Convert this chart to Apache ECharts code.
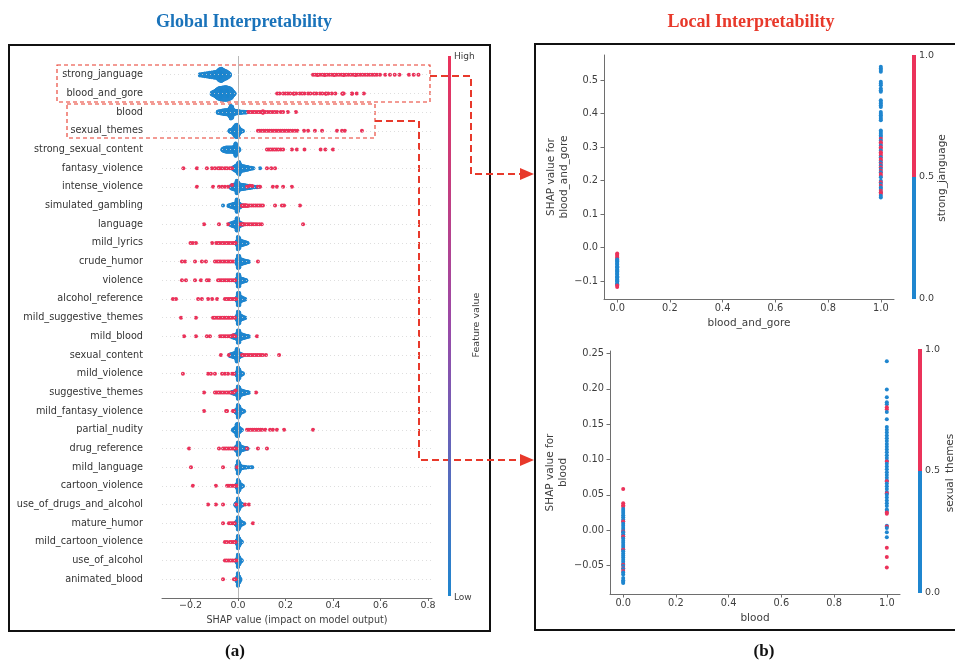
<!DOCTYPE html>
<html>
<head>
<meta charset="utf-8">
<script src="https://cdn.jsdelivr.net/npm/echarts@6/dist/echarts.min.js"></script>
<style>
  html, body { margin: 0; padding: 0; background: #fff; }
  #chart { width: 955px; height: 662px; }
</style>
</head>
<body>
<div id="chart"></div>
<script>
// ---- data ----
const features = ['strong_janguage', 'blood_and_gore', 'blood', 'sexual_themes', 'strong_sexual_content',
  'fantasy_violence', 'intense_violence', 'simulated_gambling', 'language', 'mild_lyrics', 'crude_humor',
  'violence', 'alcohol_reference', 'mild_suggestive_themes', 'mild_blood', 'sexual_content', 'mild_violence',
  'suggestive_themes', 'mild_fantasy_violence', 'partial_nudity', 'drug_reference', 'mild_language',
  'cartoon_violence', 'use_of_drugs_and_alcohol', 'mature_humor', 'mild_cartoon_violence', 'use_of_alcohol',
  'animated_blood'];

// SHAP values where the feature is low (blue); [x, n] = n points stacked at x
const lowShap = [
  [[-0.16,4],[-0.15,6],[-0.14,8],[-0.13,10],[-0.12,12],[-0.11,14],[-0.10,16],[-0.09,18],[-0.085,22],[-0.08,28],[-0.075,32],[-0.07,34],[-0.065,30],[-0.06,26],[-0.055,22],[-0.05,20],[-0.045,16],[-0.04,12],[-0.035,6]],
  [[-0.11,6],[-0.105,10],[-0.1,14],[-0.095,18],[-0.09,24],[-0.085,30],[-0.08,34],[-0.075,36],[-0.07,36],[-0.065,38],[-0.06,38],[-0.055,40],[-0.05,40],[-0.045,38],[-0.04,36],[-0.035,34],[-0.03,30],[-0.025,22],[-0.02,12],[-0.015,4]],
  [[-0.085,4],[-0.08,5],[-0.075,6],[-0.07,8],[-0.065,9],[-0.06,10],[-0.055,11],[-0.05,12],[-0.045,12],[-0.04,14],[-0.035,22],[-0.03,34],[-0.025,30],[-0.02,14],[-0.015,10],[-0.01,8],[-0.005,7],[0,6],[0.005,5],[0.01,4],[0.015,4],[0.02,3],[0.025,3],[0.03,2],[0.035,2],[0.04,1]],
  [[-0.035,4],[-0.03,6],[-0.025,8],[-0.02,14],[-0.015,22],[-0.01,30],[-0.005,32],[0,26],[0.005,16],[0.01,8],[0.015,4],[0.02,2]],
  [[-0.065,4],[-0.06,8],[-0.055,10],[-0.05,12],[-0.045,12],[-0.04,12],[-0.035,12],[-0.03,12],[-0.025,12],[-0.02,14],[-0.015,16],[-0.01,34],[-0.005,22],[0,10],[0.005,4]],
  [[-0.02,6],[-0.015,10],[-0.01,14],[-0.005,18],[0,28],[0.005,34],[0.01,20],[0.015,14],[0.02,12],[0.025,12],[0.03,10],[0.035,8],[0.04,8],[0.045,6],[0.05,4],[0.055,3],[0.06,2],[0.065,1],[0.093,1]],
  [[-0.03,6],[-0.025,10],[-0.02,12],[-0.015,14],[-0.01,16],[-0.005,34],[0,26],[0.005,16],[0.01,14],[0.015,12],[0.02,12],[0.025,10],[0.03,10],[0.035,8],[0.04,8],[0.045,6],[0.05,6],[0.055,4],[0.06,4],[0.07,2],[0.08,2],[0.09,1]],
  [[-0.063,1],[-0.04,2],[-0.035,4],[-0.03,6],[-0.025,8],[-0.02,10],[-0.015,12],[-0.01,14],[-0.005,34],[0,30],[0.005,12],[0.01,8],[0.015,4],[0.02,2]],
  [[-0.035,3],[-0.03,5],[-0.025,8],[-0.02,10],[-0.015,12],[-0.01,14],[-0.005,32],[0,30],[0.005,12],[0.01,8],[0.015,5],[0.02,2]],
  [[-0.005,10],[0,34],[0.005,28],[0.01,14],[0.015,12],[0.02,10],[0.025,8],[0.03,6],[0.035,4],[0.04,2]],
  [[-0.005,12],[0,32],[0.005,30],[0.01,14],[0.015,12],[0.02,10],[0.025,8],[0.03,6],[0.035,4],[0.04,3],[0.045,2]],
  [[-0.005,10],[0,32],[0.005,30],[0.01,12],[0.015,10],[0.02,8],[0.025,6],[0.03,4],[0.035,2]],
  [[-0.005,8],[0,30],[0.005,30],[0.01,12],[0.015,9],[0.02,6],[0.025,4],[0.03,2]],
  [[-0.005,10],[0,32],[0.005,28],[0.01,12],[0.015,9],[0.02,6],[0.025,4],[0.03,2]],
  [[-0.025,4],[-0.02,6],[-0.015,8],[-0.01,10],[-0.005,14],[0,32],[0.005,30],[0.01,14],[0.015,12],[0.02,10],[0.025,8],[0.03,6],[0.035,4],[0.04,3],[0.045,2]],
  [[-0.035,4],[-0.03,6],[-0.025,8],[-0.02,10],[-0.015,12],[-0.01,16],[-0.005,34],[0,30],[0.005,12],[0.01,8],[0.015,5],[0.02,2]],
  [[-0.005,10],[0,34],[0.005,24],[0.01,10],[0.015,6],[0.02,3]],
  [[-0.025,4],[-0.02,6],[-0.015,8],[-0.01,10],[-0.005,14],[0,34],[0.005,28],[0.01,14],[0.015,12],[0.02,10],[0.025,8],[0.03,6],[0.035,4],[0.04,3],[0.045,2]],
  [[-0.01,6],[-0.005,12],[0,34],[0.005,26],[0.01,12],[0.015,8],[0.02,4],[0.025,2]],
  [[-0.02,4],[-0.015,8],[-0.01,12],[-0.005,30],[0,32],[0.005,12],[0.01,6],[0.015,3]],
  [[-0.01,8],[-0.005,14],[0,34],[0.005,28],[0.01,14],[0.015,10],[0.02,8],[0.025,6],[0.03,4],[0.035,3],[0.04,2]],
  [[-0.005,10],[0,34],[0.005,24],[0.01,10],[0.015,6],[0.02,4],[0.025,3],[0.03,2],[0.035,2],[0.045,1],[0.055,1],[0.06,1]],
  [[-0.005,10],[0,34],[0.005,24],[0.01,10],[0.015,6],[0.02,2]],
  [[-0.01,6],[-0.005,12],[0,34],[0.005,24],[0.01,10],[0.015,6],[0.02,2]],
  [[-0.01,6],[-0.005,12],[0,34],[0.005,26],[0.01,12],[0.015,8],[0.02,4],[0.025,2]],
  [[-0.005,10],[0,34],[0.005,20],[0.01,8],[0.015,3]],
  [[-0.005,10],[0,34],[0.005,20],[0.01,8],[0.015,3]],
  [[-0.005,10],[0,34],[0.005,16],[0.01,4]]
];

// SHAP values where the feature is high (red)
const highShap = [
  [0.316,0.325,[0.335,2],0.345,0.355,[0.365,2],0.375,0.385,0.395,[0.405,2],0.415,0.425,0.435,[0.445,2],0.455,0.465,0.475,0.485,[0.495,2],0.505,0.515,0.525,0.535,0.545,0.555,0.565,0.575,0.585,0.598,0.62,0.64,0.66,0.68,0.72,0.74,0.76],
  [0.165,0.175,0.19,0.2,0.21,0.22,[0.235,2],0.245,0.26,0.27,0.28,0.295,0.305,0.32,0.33,0.345,0.355,[0.37,2],0.38,0.395,0.41,[0.44,2],0.445,[0.48,2],0.5,0.53],
  [0.043,0.05,0.058,0.065,0.072,0.08,0.088,0.095,[0.105,5],0.115,0.125,0.135,0.145,0.155,0.165,0.18,0.19,0.21,0.244],
  [0.084,0.092,0.1,0.108,0.116,0.124,0.132,0.14,0.148,0.156,0.164,0.172,0.18,0.188,0.196,0.204,0.212,0.22,0.23,0.24,0.25,0.278,0.295,0.324,0.354,0.417,0.438,0.45,0.522],
  [0.122,0.13,0.138,0.146,0.154,0.162,0.17,0.18,0.19,0.227,0.248,0.28,0.348,0.368,0.40],
  [-0.23,-0.173,-0.131,-0.11,-0.097,-0.084,-0.076,-0.067,-0.055,-0.046,-0.034,-0.025,0.122,0.14,0.156],
  [-0.173,-0.105,-0.08,-0.067,-0.055,-0.042,-0.025,0.038,0.05,0.06,0.084,0.093,0.147,0.164,0.19,0.227],
  [[0.017,2],[0.025,3],[0.033,3],[0.041,2],0.049,0.057,0.065,0.073,0.081,0.089,0.097,0.105,0.156,0.185,0.194,0.261],
  [-0.143,-0.08,-0.042,0.008,[0.016,2],[0.024,2],0.032,0.04,0.048,0.056,0.064,0.072,0.08,0.09,0.1,0.274],
  [-0.2,-0.19,-0.177,-0.109,-0.092,-0.084,-0.076,-0.067,-0.059,-0.05,-0.042,-0.034,-0.025,-0.017,-0.01],
  [-0.236,-0.223,-0.181,-0.152,-0.135,-0.097,-0.088,-0.08,-0.072,-0.063,-0.055,-0.046,-0.038,-0.03,-0.021,0.084],
  [-0.236,-0.219,-0.181,-0.156,-0.131,-0.122,-0.084,-0.076,-0.068,-0.06,-0.052,-0.044,-0.036,-0.028,-0.02,-0.012],
  [-0.274,-0.261,-0.168,-0.152,-0.126,-0.109,-0.088,-0.055,-0.047,-0.039,-0.031,-0.023,-0.015,-0.008],
  [-0.24,-0.177,-0.105,-0.097,-0.088,-0.08,-0.072,-0.064,-0.056,-0.048,-0.04,-0.032,-0.024,-0.013],
  [-0.227,-0.177,-0.131,-0.118,-0.076,-0.068,-0.06,-0.052,-0.044,-0.036,-0.028,-0.02,-0.012,0.08],
  [-0.072,-0.038,0.017,0.025,0.033,0.041,0.049,0.057,0.065,0.073,0.081,0.089,0.097,0.105,0.118,0.173],
  [-0.232,-0.126,-0.114,-0.097,-0.067,-0.055,-0.042,-0.025,-0.017],
  [-0.143,-0.097,-0.09,-0.082,-0.075,-0.067,-0.059,-0.05,-0.042,-0.034,-0.026,-0.018,-0.01,0.076],
  [-0.143,-0.05,-0.046,-0.021,-0.017],
  [0.038,0.046,0.054,0.062,0.07,0.078,0.086,0.094,0.102,0.115,0.135,0.147,0.164,0.194,0.316],
  [-0.206,-0.08,-0.063,-0.055,-0.047,-0.039,-0.031,-0.023,-0.015,-0.008,0.038,0.084,0.122],
  [-0.198,-0.063,-0.004],
  [-0.19,-0.093,-0.046,-0.038,-0.03,-0.022,-0.014,-0.006],
  [-0.126,-0.093,-0.063,-0.008,0.03,0.046],
  [-0.063,-0.038,-0.03,-0.022,-0.014,0.063],
  [-0.055,-0.046,-0.034,-0.026,-0.018,-0.01],
  [-0.055,-0.047,-0.039,-0.031,-0.023,-0.015,-0.007],
  [-0.063,-0.017,-0.01]
];

const shapTicks = [-0.2, 0, 0.2, 0.4, 0.6, 0.8];
const depTicks = [0, 0.2, 0.4, 0.6, 0.8, 1.0];
const goreTicks = [-0.1, 0, 0.1, 0.2, 0.3, 0.4, 0.5];
const bloodTicks = [-0.05, 0, 0.05, 0.1, 0.15, 0.2, 0.25];

// dependence plot: blood_and_gore (colour = strong_janguage)
const goreLowAt0 = [-0.035,-0.038,-0.04,-0.045,-0.048,-0.05,-0.055,-0.058,-0.06,-0.065,-0.068,-0.07,-0.075,-0.078,-0.08,-0.085,-0.088,-0.09,-0.095,-0.098,-0.1,-0.105,-0.108,-0.11];
const goreHighAt0 = [-0.017,-0.021,-0.025,-0.029,-0.033,-0.113,-0.117];
const goreLowAt1 = [0.54,0.535,0.53,0.525,0.495,0.49,0.485,0.475,0.47,0.465,0.44,0.435,0.43,0.425,0.42,0.405,0.4,0.395,0.39,0.385,0.38,0.35,0.345,0.34,0.335,0.33,0.32,0.305,0.29,0.27,0.255,0.245,0.235,0.225,0.21,0.2,0.19,0.18,0.175,0.165,0.155,0.15];
const goreHighAt1 = [0.325,0.315,0.31,0.3,0.295,0.285,0.28,0.275,0.265,0.26,0.25,0.24,0.23,0.22,0.215,0.195,0.185,0.17,0.165,0.16];

// dependence plot: blood (colour = sexual_themes)
const bloodLowAt0 = [0.03,0.027,0.024,0.021,0.018,0.015,0.012,0.009,0.006,0.003,0,-0.003,-0.006,-0.009,-0.012,-0.015,-0.018,-0.021,-0.024,-0.027,-0.03,-0.033,-0.036,-0.039,-0.042,-0.045,-0.048,-0.051,-0.055,-0.06,-0.063,-0.068,-0.071,-0.073,-0.075];
const bloodHighAt0 = [0.058,0.038,0.035,0.033,0.012,-0.002,-0.009,-0.028,-0.049,-0.054,-0.058];
const bloodLowAt1 = [0.239,0.199,0.188,0.181,0.178,0.167,0.157,0.146,0.142,0.138,0.134,0.13,0.126,0.122,0.118,0.114,0.11,0.106,0.102,0.098,0.094,0.09,0.086,0.082,0.078,0.074,0.07,0.066,0.062,0.058,0.054,0.05,0.046,0.042,0.038,0.034,0.029,0.027,0.006,0.003,-0.003,-0.01];
const bloodHighAt1 = [0.174,0.171,0.097,0.069,0.052,0.025,0.023,0.005,-0.025,-0.038,-0.053];

// ---- colours ----
const BLUE = '#1f86cf';
const RED = '#eb325a';
const FONT = 'DejaVu Sans';

// beeswarm layout, same idea as shap's summary plot: stack points that share an x value
const swarmLow = [], swarmHigh = [];
features.forEach((f, row) => {
  const pts = [];
  const add = (list, c) => list.forEach(v => {
    const [x, n] = typeof v === 'number' ? [v, 1] : v;
    for (let k = 0; k < n; k++) pts.push({ x, c });
  });
  add(lowShap[row], 0);
  add(highShap[row], 1);
  pts.sort((a, b) => a.x - b.x || a.c - b.c);
  let layer = 0, last = null, maxY = 0;
  pts.forEach(p => {
    const key = Math.round(p.x * 10000);
    if (key !== last) { layer = 0; last = key; }
    p.y = Math.ceil(layer / 2) * ((layer % 2) * 2 - 1);
    layer++;
    maxY = Math.max(maxY, Math.abs(p.y));
  });
  const s = 0.9 * 0.4 / (maxY + 1);
  pts.forEach(p => (p.c ? swarmHigh : swarmLow).push([p.x, row + p.y * s]));
});

// dependence points: [feature value, shap, colour value], drawn in order of shap so colours interleave
function depPoints(lo0, hi0, lo1, hi1) {
  const out = [];
  lo0.forEach(v => out.push([0, v, 0]));
  hi0.forEach(v => out.push([0, v, 1]));
  lo1.forEach(v => out.push([1, v, 0]));
  hi1.forEach(v => out.push([1, v, 1]));
  return out.sort((a, b) => b[1] - a[1]);
}
const gorePts = depPoints(goreLowAt0, goreHighAt0, goreLowAt1, goreHighAt1);
const bloodPts = depPoints(bloodLowAt0, bloodHighAt0, bloodLowAt1, bloodHighAt1);

const fmt = d => v => (v < 0 ? '\u2212' : '') + Math.abs(v).toFixed(d);

const axisGrey = '#6e6e6e';
const labelGrey = '#3d3d3d';

function depX(grid, name, gap) {
  return {
    gridIndex: grid, type: 'value', min: -0.05, max: 1.05,
    name: name, nameLocation: 'middle', nameGap: gap,
    nameTextStyle: { fontFamily: FONT, fontSize: 10.5, color: labelGrey },
    axisLine: { onZero: false, lineStyle: { color: axisGrey } },
    axisTick: { customValues: depTicks, length: 3.5, lineStyle: { color: axisGrey } },
    axisLabel: { customValues: depTicks, formatter: fmt(1), fontFamily: FONT, fontSize: 9.8, color: labelGrey, margin: 4 },
    splitLine: { show: false }
  };
}
function depY(grid, min, max, ticks, d, name, gap) {
  return {
    gridIndex: grid, type: 'value', min: min, max: max,
    name: name, nameLocation: 'middle', nameGap: gap, nameRotate: 90,
    nameTextStyle: { fontFamily: FONT, fontSize: 10.5, color: labelGrey, lineHeight: 13 },
    axisLine: { show: true, onZero: false, lineStyle: { color: axisGrey } },
    axisTick: { show: true, customValues: ticks, length: 3.5, lineStyle: { color: axisGrey } },
    axisLabel: { customValues: ticks, formatter: fmt(d), fontFamily: FONT, fontSize: 9.8, color: labelGrey, margin: 6 },
    splitLine: { show: false }
  };
}

const txt = (x, y, text, extra, rot) => ({
  type: 'text', x: x, y: y, rotation: rot || 0, silent: true,
  style: Object.assign({ text: text, fontFamily: FONT, fontSize: 9.5, fill: labelGrey, align: 'left', verticalAlign: 'middle' }, extra || {})
});
const dashRed = '#e8392b';
const solidDot = (c) => ({ color: c, opacity: 1, borderWidth: 0 });

const chart = echarts.init(document.getElementById('chart'));
chart.setOption({
  animation: false,
  backgroundColor: '#fff',
  grid: [
    { left: 162, top: 56, width: 270, height: 542 },
    { left: 604, top: 55, width: 290, height: 244 },
    { left: 610, top: 351, width: 290, height: 243 }
  ],
  visualMap: [{
    type: 'piecewise', show: false, dimension: 2, seriesIndex: [3, 4],
    pieces: [{ value: 0, color: BLUE }, { value: 1, color: RED }]
  }],
  xAxis: [
    {
      gridIndex: 0, type: 'value', min: -0.32, max: 0.817,
      name: 'SHAP value (impact on model output)', nameLocation: 'middle', nameGap: 15,
      nameTextStyle: { fontFamily: FONT, fontSize: 9.6, color: labelGrey },
      axisLine: { onZero: false, lineStyle: { color: axisGrey } },
      axisTick: { customValues: shapTicks, length: 3, lineStyle: { color: axisGrey } },
      axisLabel: { customValues: shapTicks, formatter: fmt(1), fontFamily: FONT, fontSize: 9.5, color: labelGrey, margin: 3 },
      splitLine: { show: false }
    },
    depX(1, 'blood_and_gore', 19),
    depX(2, 'blood', 19)
  ],
  yAxis: [
    {
      gridIndex: 0, type: 'value', inverse: true, min: -1, max: 28,
      axisLine: { show: false, onZero: false }, axisTick: { show: false }, splitLine: { show: false },
      axisLabel: {
        customValues: features.map((f, i) => i),
        formatter: v => features[Math.round(v)] || '',
        fontFamily: FONT, fontSize: 9.7, color: '#333', margin: 19
      }
    },
    depY(1, -0.153, 0.575, goreTicks, 1, 'SHAP value for\nblood_and_gore', 32),
    depY(2, -0.0905, 0.2535, bloodTicks, 2, 'SHAP value for\nblood', 38)
  ],
  series: [
    {
      type: 'scatter', xAxisIndex: 0, yAxisIndex: 0, data: [], z: 1, silent: true,
      markLine: {
        silent: true, symbol: 'none', label: { show: false }, animation: false,
        data: [{ xAxis: 0, lineStyle: { color: '#b8b8b8', width: 1, type: 'solid' } }].concat(
          features.map((f, i) => ({ yAxis: i, lineStyle: { color: '#d6d6d6', width: 0.8, type: [1, 3] } })))
      }
    },
    { type: 'scatter', xAxisIndex: 0, yAxisIndex: 0, data: swarmLow, large: false, symbol: 'circle', symbolSize: 4, itemStyle: solidDot(BLUE), z: 2, silent: true },
    { type: 'scatter', xAxisIndex: 0, yAxisIndex: 0, data: swarmHigh, large: false, symbol: 'circle', symbolSize: 4, itemStyle: solidDot(RED), z: 3, silent: true },
    { type: 'scatter', xAxisIndex: 1, yAxisIndex: 1, data: gorePts, symbol: 'circle', symbolSize: 4, itemStyle: { opacity: 1, borderWidth: 0 }, silent: true },
    { type: 'scatter', xAxisIndex: 2, yAxisIndex: 2, data: bloodPts, symbol: 'circle', symbolSize: 4, itemStyle: { opacity: 1, borderWidth: 0 }, silent: true }
  ],
  graphic: [
    // panel frames
    { type: 'rect', silent: true, shape: { x: 9, y: 45, width: 481, height: 586 }, style: { fill: 'none', stroke: '#111', lineWidth: 2 } },
    { type: 'rect', silent: true, shape: { x: 535, y: 44, width: 430, height: 586 }, style: { fill: 'none', stroke: '#111', lineWidth: 2 } },
    // highlight boxes and connectors
    { type: 'rect', silent: true, shape: { x: 57, y: 65, width: 373, height: 37 }, style: { fill: 'none', stroke: dashRed, lineWidth: 1.1, lineDash: [4, 3] } },
    { type: 'rect', silent: true, shape: { x: 67, y: 104, width: 308, height: 34 }, style: { fill: 'none', stroke: dashRed, lineWidth: 1.1, lineDash: [4, 3] } },
    { type: 'polyline', silent: true, shape: { points: [[430, 76], [471, 76], [471, 174], [522, 174]] }, style: { fill: 'none', stroke: dashRed, lineWidth: 2, lineDash: [7, 4] } },
    { type: 'polyline', silent: true, shape: { points: [[375, 121], [419, 121], [419, 460], [522, 460]] }, style: { fill: 'none', stroke: dashRed, lineWidth: 2, lineDash: [7, 4] } },
    { type: 'polygon', silent: true, shape: { points: [[520, 168], [534, 174], [520, 180]] }, style: { fill: dashRed } },
    { type: 'polygon', silent: true, shape: { points: [[520, 454], [534, 460], [520, 466]] }, style: { fill: dashRed } },
    // colour bars
    {
      type: 'rect', silent: true, shape: { x: 448, y: 56, width: 3, height: 540 },
      style: { fill: new echarts.graphic.LinearGradient(0, 0, 0, 1, [
        { offset: 0, color: RED }, { offset: 0.5, color: '#9a4aa8' }, { offset: 1, color: BLUE }]) }
    },
    { type: 'rect', silent: true, shape: { x: 912, y: 55, width: 4, height: 122 }, style: { fill: RED } },
    { type: 'rect', silent: true, shape: { x: 912, y: 177, width: 4, height: 122 }, style: { fill: BLUE } },
    { type: 'rect', silent: true, shape: { x: 918, y: 349, width: 4, height: 122 }, style: { fill: RED } },
    { type: 'rect', silent: true, shape: { x: 918, y: 471, width: 4, height: 122 }, style: { fill: BLUE } },
    txt(454, 57, 'High', { fontSize: 9 }),
    txt(454, 598, 'Low', { fontSize: 9 }),
    txt(477, 325, 'Feature value', { fontSize: 9.5, align: 'center' }, Math.PI / 2),
    txt(919, 56, '1.0'), txt(919, 177, '0.5'), txt(919, 299, '0.0'),
    txt(925, 350, '1.0'), txt(925, 471, '0.5'), txt(925, 593, '0.0'),
    txt(942, 178, 'strong_janguage', { fontSize: 10.5, align: 'center' }, Math.PI / 2),
    txt(950, 473, 'sexual_themes', { fontSize: 10.5, align: 'center' }, Math.PI / 2),
    // headings and captions
    txt(244, 22, 'Global Interpretability', { fontFamily: 'Liberation Serif', fontWeight: 'bold', fontSize: 18, fill: '#1a73ba', align: 'center' }),
    txt(751, 22, 'Local Interpretability', { fontFamily: 'Liberation Serif', fontWeight: 'bold', fontSize: 18, fill: '#e8392b', align: 'center' }),
    txt(235, 652, '(a)', { fontFamily: 'Liberation Serif', fontWeight: 'bold', fontSize: 17, fill: '#111', align: 'center' }),
    txt(764, 652, '(b)', { fontFamily: 'Liberation Serif', fontWeight: 'bold', fontSize: 17, fill: '#111', align: 'center' })
  ]
});
</script>
</body>
</html>
